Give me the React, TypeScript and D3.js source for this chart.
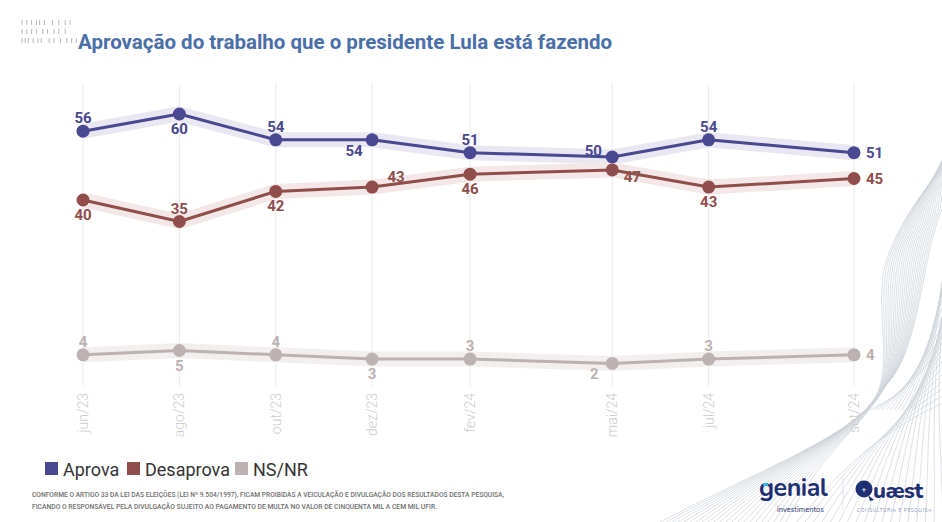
import React from 'react';
import * as d3 from 'd3';

// survey months (x positions follow the calendar)
const surveyDates = ['2023-06-01', '2023-08-01', '2023-10-01', '2023-12-01', '2024-02-01', '2024-05-01', '2024-07-01', '2024-10-01'];
const tickLabels = ['jun/23', 'ago/23', 'out/23', 'dez/23', 'fev/24', 'mai/24', 'jul/24', 'set/24'];

const aprova = [56, 60, 54, 54, 51, 50, 54, 51];
const desaprova = [40, 35, 42, 43, 46, 47, 43, 45];
const nsnr = [4, 5, 4, 3, 3, 2, 3, 4];

const seriesNames = ['Aprova', 'Desaprova', 'NS/NR'];

// where each value label sits relative to its point
const aprovaPlaces = ['a', 'b', 'a', 'bl', 'a', 'al', 'a', 'r'];
const desaprovaPlaces = ['b', 'a', 'b', 'ar', 'b', 'br', 'b', 'r'];
const nsnrPlaces = ['a', 'b', 'a', 'b', 'a', 'bl', 'a', 'r'];

const W = 942;
const H = 522;

const colors = ['#4a4890', '#8f4e4c', '#bcb2b2'];
const halos = ['#e9e7f1', '#f3e8e7', '#f3efef'];

const offsets: Record<string, [number, number, string]> = {
  a: [0, -8, 'middle'],
  b: [0, 20, 'middle'],
  r: [12, 5, 'start'],
  bl: [-18, 16, 'middle'],
  ar: [24, -5, 'middle'],
  br: [20, 12, 'middle'],
  al: [-19, -1, 'middle'],
};

const parse = d3.timeParse('%Y-%m-%d');

const Waves = () => {
  const paths: string[] = [];
  for (let i = 0; i < 22; i++) {
    const k = i * 3;
    paths.push(
      `M${660 + k * 2},${522} C${760 + k},${470 - i} ${840 + i},${440 - i * 0.5} ${870 + i * 0.8},${405 - i}` +
      ` C${900 + i},${370 - i} ${868 + i * 2.5},${300 - i * 2} ${890 + i * 2.5},${250 - i * 2}` +
      ` C${905 + i * 2},${215 - i * 2} ${925 + i},${185 - i * 1.5} ${955},${160 - i * 2}`
    );
  }
  for (let i = 0; i < 18; i++) {
    paths.push(`M${790 + i * 9},${530} C${840 + i * 6},${470 - i * 2} ${880 + i * 3},${430 - i * 3} ${950},${400 - i * 8}`);
  }
  for (let i = 0; i < 12; i++) {
    paths.push(`M${870 + i * 4},${410} C${900 + i * 3},${395 - i * 3} ${920 + i * 2},${380 - i * 6} ${950},${330 - i * 12}`);
  }
  return (
    <g fill="none" stroke="#c6cdd4" strokeWidth={0.7} opacity={0.85}>
      {paths.map((p, i) => <path key={i} d={p} />)}
    </g>
  );
};

const TopMark = () => {
  const rows = [
    [0, 3, 6, 9, 11, 14, 19, 23, 27, 30],
    [0, 3, 6, 9, 13, 16, 20, 23, 27],
    [0, 2, 4, 7, 10, 12, 17, 20, 24, 28, 31, 34],
  ];
  return (
    <g stroke="#b8b8b8" strokeWidth={1}>
      {rows.map((r, j) =>
        r.map((dx, i) => <line key={`${j}-${i}`} x1={22 + dx * 1.6} x2={22 + dx * 1.6} y1={20 + j * 9} y2={25 + j * 9} />)
      )}
    </g>
  );
};

const App = () => {
  const dates = surveyDates.map(d => parse(d) as Date);
  const x = d3.scaleTime().domain([dates[0], dates[dates.length - 1]]).range([83, 854]);
  const y = d3.scaleLinear().domain([0, 60]).range([372, 114]);

  const series = [aprova, desaprova, nsnr];
  const places = [aprovaPlaces, desaprovaPlaces, nsnrPlaces];

  const line = d3.line<number>()
    .x((_, i) => x(dates[i]))
    .y(d => y(d));

  const legendX = [45, 127, 235];

  return (
    <div style={{ position: 'fixed', left: 0, top: 0 }}>
      <svg width={W} height={H} style={{ display: 'block', background: '#fff' }}>
        <Waves />
        <TopMark />
        <text x={78} y={49} fill="#4a6ea8" fontFamily="Roboto" fontWeight={700} fontSize={20.5}>
          Aprovação do trabalho que o presidente Lula está fazendo
        </text>

        {/* vertical grid + rotated month labels */}
        {dates.map((d, i) => (
          <g key={i}>
            <line x1={x(d)} x2={x(d)} y1={83} y2={386} stroke="#ebebeb" strokeWidth={1} />
            <text
              transform={`translate(${x(d) + 5},393) rotate(-90)`}
              textAnchor="end"
              fill="#cdcdcd"
              fontFamily="Roboto"
              fontWeight={300}
              fontSize={14}
            >
              {tickLabels[i]}
            </text>
          </g>
        ))}

        {/* halos */}
        {series.map((s, j) => (
          <path key={`h${j}`} d={line(s) || ''} fill="none" stroke={halos[j]} strokeWidth={15} strokeLinejoin="round" />
        ))}

        {series.map((s, j) => (
          <g key={`s${j}`}>
            <path d={line(s) || ''} fill="none" stroke={colors[j]} strokeWidth={3} strokeLinejoin="round" />
            {s.map((v, i) => (
              <circle key={i} cx={x(dates[i])} cy={y(v)} r={6.5} fill={colors[j]} />
            ))}
            {s.map((v, i) => {
              const [dx, dy, anchor] = offsets[places[j][i]];
              return (
                <text
                  key={`t${i}`}
                  x={x(dates[i]) + dx}
                  y={y(v) + dy}
                  textAnchor={anchor as any}
                  fill={colors[j]}
                  fontFamily="Roboto"
                  fontWeight={700}
                  fontSize={15}
                >
                  {v}
                </text>
              );
            })}
          </g>
        ))}

        {/* legend */}
        {seriesNames.map((n, j) => (
          <g key={n}>
            <rect x={legendX[j]} y={462} width={13} height={13} fill={colors[j]} />
            <text x={legendX[j] + 18} y={476} fill="#333" fontFamily="Roboto" fontSize={18}>{n}</text>
          </g>
        ))}

        {/* footer */}
        <g fill="#6f6f6f" fontFamily="Roboto" fontWeight={500} fontSize={7.2}>
          <text x={32} y={497} textLength={472} lengthAdjust="spacingAndGlyphs">
            CONFORME O ARTIGO 33 DA LEI DAS ELEIÇÕES (LEI Nº 9.504/1997), FICAM PROIBIDAS A VEICULAÇÃO E DIVULGAÇÃO DOS RESULTADOS DESTA PESQUISA,
          </text>
          <text x={32} y={509} textLength={405} lengthAdjust="spacingAndGlyphs">
            FICANDO O RESPONSÁVEL PELA DIVULGAÇÃO SUJEITO AO PAGAMENTO DE MULTA NO VALOR DE CINQUENTA MIL A CEM MIL UFIR.
          </text>
        </g>

        {/* logos */}
        <g fill="#1f2f73" fontFamily="Nunito, 'Open Sans', sans-serif">
          <text x={759} y={496} fontSize={25} fontWeight={700} letterSpacing={-0.5}>genial</text>
          <rect x={763} y={483} width={5} height={3} fill="#2fb5e0" />
          <text x={777} y={512} fontSize={7.5}>investimentos</text>
          <line x1={843} x2={843} y1={478} y2={510} stroke="#dde3ea" strokeWidth={1} />
          <circle cx={864} cy={489} r={8.5} />
          <path d="M868,495 L874,500 L870,501 Z" />
          <text x={864} y={492} fontSize={8} fill="#fff" textAnchor="middle" fontWeight={700}>+</text>
          <text x={873} y={498} fontSize={22} fontWeight={800} letterSpacing={-0.5}>uæst</text>
          <text x={857} y={512} fontSize={4.8} fill="#8a93b5" letterSpacing={0.6}>CONSULTORIA E PESQUISA</text>
        </g>
      </svg>
    </div>
  );
};

export default App;
